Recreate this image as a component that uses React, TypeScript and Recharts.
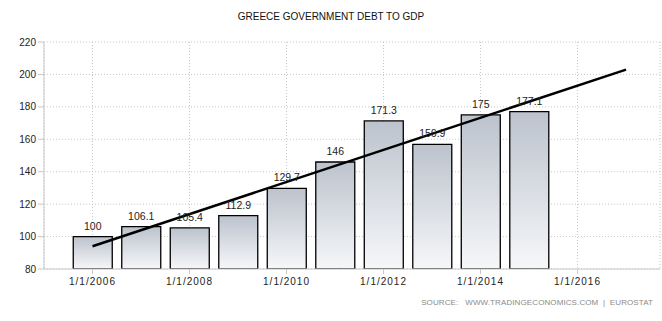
import React from "react";
import {
  ComposedChart,
  Bar,
  Line,
  XAxis,
  YAxis,
  CartesianGrid,
  LabelList,
} from "recharts";

const years = [2006, 2007, 2008, 2009, 2010, 2011, 2012, 2013, 2014, 2015];
const debtValues = [100, 106.1, 105.4, 112.9, 129.7, 146, 171.3, 156.9, 175, 177.1];
const trendYears = [2006, 2017];
const trendValues = [94, 203];
const xTicks = [2006, 2008, 2010, 2012, 2014, 2016];
const yTicks = [80, 100, 120, 140, 160, 180, 200, 220];

const barData = years.map((y, i) => ({ year: y, value: debtValues[i] }));
const trendData = trendYears.map((y, i) => ({ year: y, trend: trendValues[i] }));

const FONT = "'Liberation Sans', Arial, sans-serif";

export default function App() {
  return (
    <div style={{ position: "absolute", left: 0, top: 0, width: 662, height: 321, background: "#fff", fontFamily: FONT }}>
      <div
        style={{
          position: "absolute",
          top: 11,
          left: 0,
          width: 662,
          textAlign: "center",
          fontSize: 10,
          color: "#111",
          fontFamily: FONT,
        }}
      >
        GREECE GOVERNMENT DEBT TO GDP
      </div>
      <ComposedChart
        width={662}
        height={321}
        data={barData}
        margin={{ top: 42, right: 2, left: 0, bottom: 22 }}
      >
        <defs>
          <linearGradient id="barGrad" x1="0" y1="0" x2="0" y2="1">
            <stop offset="0%" stopColor="#bcc3cd" />
            <stop offset="100%" stopColor="#f6f7f9" />
          </linearGradient>
        </defs>
        <CartesianGrid stroke="#c8c8c8" strokeDasharray="1 2" />
        <XAxis
          dataKey="year"
          type="number"
          domain={[2005, 2017.7]}
          ticks={xTicks}
          allowDataOverflow
          tickFormatter={(v) => `1/1/${v}`}
          height={30}
          stroke="#c8c8c8"
          tickLine={{ stroke: "#c8c8c8" }}
          tickSize={5}
          tickMargin={4}
          tick={{ fill: "#222", fontSize: 10, fontFamily: FONT, letterSpacing: 1 }}
        />
        <YAxis
          type="number"
          domain={[80, 220]}
          ticks={yTicks}
          allowDataOverflow
          width={44}
          stroke="#c8c8c8"
          tickLine={{ stroke: "#c8c8c8" }}
          tick={{ fill: "#222", fontSize: 10, fontFamily: FONT }}
        />
        <Bar
          dataKey="value"
          barSize={39}
          fill="url(#barGrad)"
          stroke="#000"
          strokeWidth={1.3}
          isAnimationActive={false}
        >
          <LabelList
            dataKey="value"
            position="top"
            offset={7}
            style={{ fill: "#222", fontSize: 10.5, fontFamily: FONT }}
          />
        </Bar>
        <Line
          data={trendData}
          dataKey="trend"
          type="linear"
          stroke="#000"
          strokeWidth={2.5}
          dot={false}
          activeDot={false}
          isAnimationActive={false}
        />
      </ComposedChart>
      <div
        style={{
          position: "absolute",
          top: 298,
          right: 9,
          fontSize: 8,
          color: "#8a8a8a",
          fontFamily: FONT,
          whiteSpace: "pre",
          letterSpacing: 0.1,
        }}
      >
        {"SOURCE:   WWW.TRADINGECONOMICS.COM  |  EUROSTAT"}
      </div>
    </div>
  );
}
